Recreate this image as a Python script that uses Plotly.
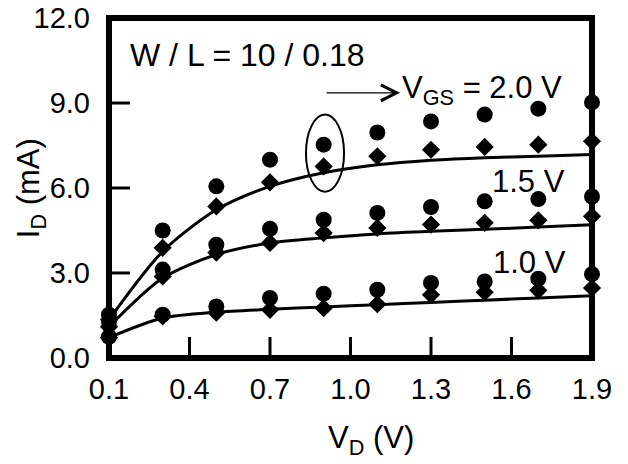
import plotly.graph_objects as go

# ---- data ----
vd = [0.1, 0.3, 0.5, 0.7, 0.9, 1.1, 1.3, 1.5, 1.7, 1.9]

circ_20 = [1.53, 4.50, 6.06, 7.00, 7.53, 7.96, 8.35, 8.59, 8.80, 9.02]
diam_20 = [1.35, 3.89, 5.35, 6.20, 6.76, 7.12, 7.35, 7.45, 7.53, 7.65]
line_20 = [1.35, 3.76, 5.23, 6.06, 6.54, 6.82, 6.98, 7.07, 7.12, 7.18]

circ_15 = [1.28, 3.12, 4.00, 4.56, 4.88, 5.12, 5.33, 5.53, 5.61, 5.70]
diam_15 = [1.10, 2.88, 3.72, 4.06, 4.41, 4.59, 4.71, 4.77, 4.86, 5.00]
line_15 = [1.10, 2.82, 3.65, 4.06, 4.24, 4.38, 4.47, 4.54, 4.62, 4.70]

circ_10 = [0.75, 1.53, 1.82, 2.12, 2.27, 2.41, 2.65, 2.70, 2.80, 2.96]
diam_10 = [0.72, 1.47, 1.60, 1.70, 1.76, 1.90, 2.23, 2.32, 2.39, 2.47]
line_10 = [0.72, 1.41, 1.62, 1.72, 1.80, 1.88, 1.96, 2.04, 2.12, 2.20]

x_ticks = [0.1, 0.4, 0.7, 1.0, 1.3, 1.6, 1.9]
y_ticks = [0.0, 3.0, 6.0, 9.0, 12.0]

FONT = "Liberation Sans, Arial, sans-serif"

fig = go.Figure()

for ly in (line_20, line_15, line_10):
    fig.add_trace(go.Scatter(x=vd, y=ly, mode="lines",
                             line=dict(color="black", width=3, shape="spline", smoothing=0.8),
                             cliponaxis=False, showlegend=False, hoverinfo="skip"))
for dy in (diam_20, diam_15, diam_10):
    fig.add_trace(go.Scatter(x=vd, y=dy, mode="markers",
                             marker=dict(symbol="diamond", size=14, color="black"),
                             cliponaxis=False, showlegend=False))
for cy in (circ_20, circ_15, circ_10):
    fig.add_trace(go.Scatter(x=vd, y=cy, mode="markers",
                             marker=dict(symbol="circle", size=16, color="black"),
                             cliponaxis=False, showlegend=False))

# page body has an 8px margin: plot area placed so that it lands at (109..592, 18..358)
fig.update_layout(
    width=628, height=464,
    margin=dict(l=101, r=43.5, t=10, b=114),
    paper_bgcolor="white", plot_bgcolor="white",
    font=dict(family=FONT, size=29, color="black"),
    xaxis=dict(range=[0.1, 1.9], tickvals=x_ticks, ticktext=[f"{v:.1f}" for v in x_ticks],
               ticks="", showgrid=False, zeroline=False, showline=False, automargin=False,
               tickfont=dict(size=29), ticklabelstandoff=11, ticklabeloverflow="allow"),
    yaxis=dict(range=[0, 12], tickvals=y_ticks, ticktext=[f"{v:.1f}" for v in y_ticks],
               ticks="", showgrid=False, zeroline=False, showline=False, automargin=False,
               tickfont=dict(size=29), ticklabelstandoff=18, ticklabeloverflow="allow"),
)

# inside tick marks at the tick values
for v in x_ticks:
    fig.add_shape(type="line", xref="x", x0=v, x1=v, yref="paper", ysizemode="pixel",
                  yanchor=0, y0=0, y1=21, line=dict(color="black", width=3))
for v in y_ticks:
    fig.add_shape(type="line", yref="y", y0=v, y1=v, xref="paper", xsizemode="pixel",
                  xanchor=0, x0=0, x1=21, line=dict(color="black", width=3))

# frame
fig.add_shape(type="rect", xref="paper", yref="paper", x0=0, y0=0, x1=1, y1=1,
              line=dict(color="black", width=6), layer="above")
# ellipse
fig.add_shape(type="circle", xref="x", yref="y", x0=0.834, x1=0.976, y0=5.87, y1=8.59,
              line=dict(color="black", width=2))

# arrow
fig.add_annotation(x=1.185, y=9.36, ax=0.905, ay=9.36, xref="x", yref="y",
                   axref="x", ayref="y", text="", showarrow=True,
                   arrowhead=5, arrowwidth=1.3, arrowsize=2.4, arrowcolor="black")

def ann(size):
    return dict(showarrow=False, font=dict(family=FONT, size=size, color="black"))

fig.add_annotation(x=0.171, y=10.7, xref="x", yref="y", xanchor="left", yanchor="middle",
                   text="W / L = 10 / 0.18", **ann(32))
fig.add_annotation(x=1.185, y=9.45, xref="x", yref="y", xanchor="left", yanchor="middle",
                   text="V<sub>GS</sub> = 2.0 V", **ann(31))
fig.add_annotation(x=1.52, y=6.24, xref="x", yref="y", xanchor="left", yanchor="middle",
                   text="1.5 V", **ann(31))
fig.add_annotation(x=1.524, y=3.38, xref="x", yref="y", xanchor="left", yanchor="middle",
                   text="1.0 V", **ann(31))
# axis titles
fig.add_annotation(x=1.077, y=-0.24, xref="x", yref="paper", xanchor="center", yanchor="middle",
                   text="V<sub>D</sub> (V)", **ann(31))
fig.add_annotation(x=-0.161, y=0.5, xref="paper", yref="paper", xanchor="center", yanchor="middle",
                   textangle=-90, text="I<sub>D</sub> (mA)", **ann(31))

fig.write_html("out.html")
